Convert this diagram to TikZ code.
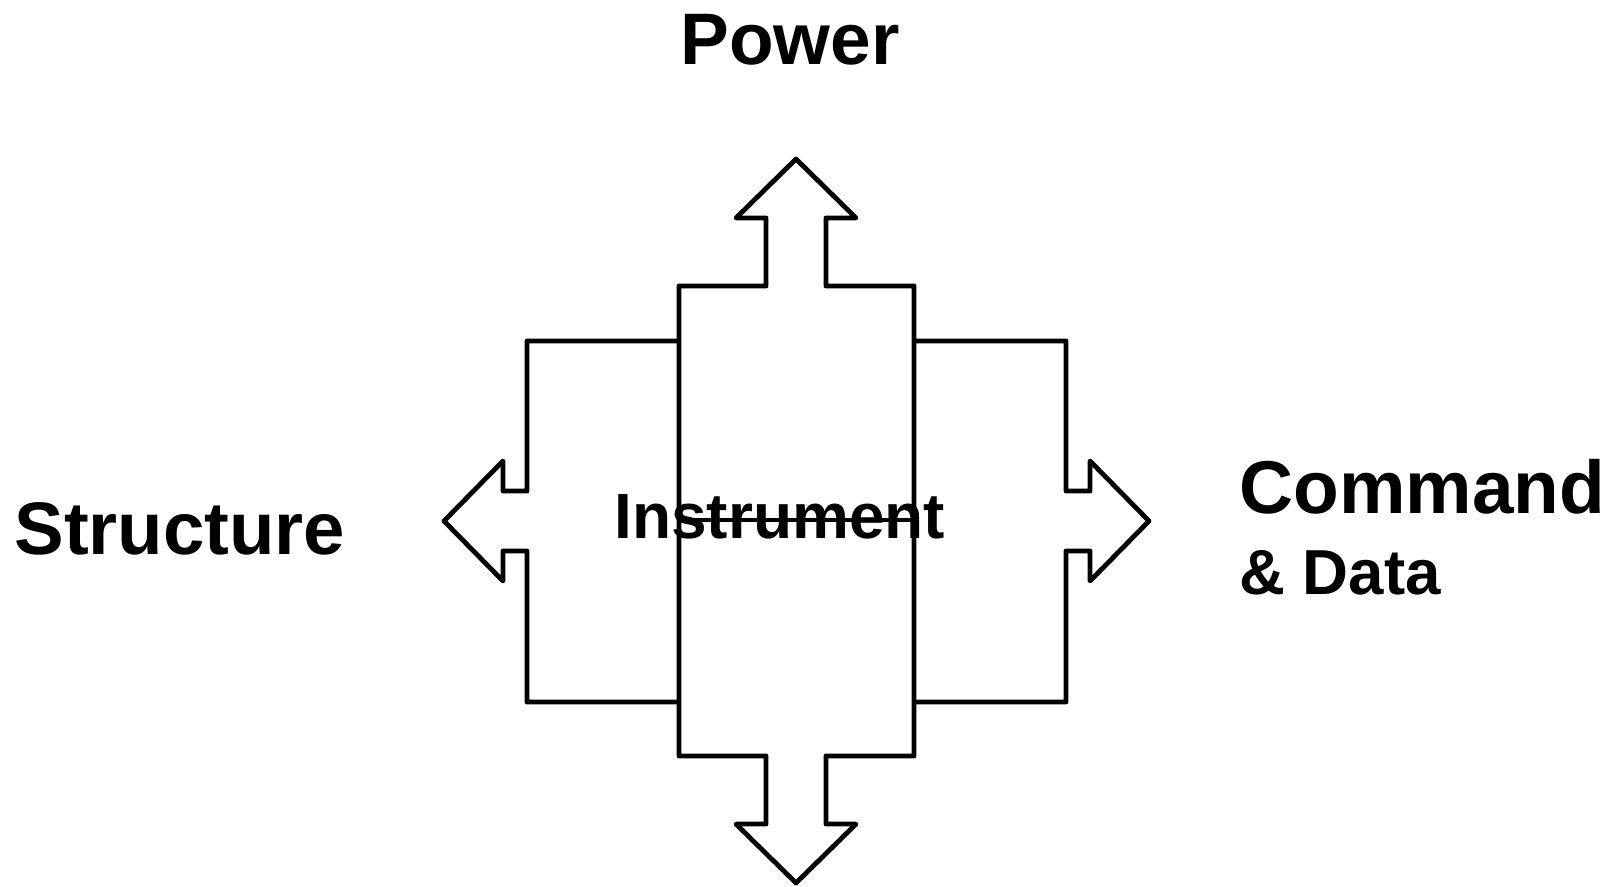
\documentclass[tikz,border=0pt]{standalone}
\usepackage{fontspec}
\setmainfont{Liberation Sans}
\usepackage{tikz}
\usetikzlibrary{positioning}

\begin{document}
\begin{tikzpicture}[x=0.5pt, y=-0.5pt,
  outline/.style={draw=black, line width=2.4pt, line join=round, line cap=round, fill=white},
  lbl/.style={inner sep=0pt, anchor=base west, font=\bfseries}]
  \useasboundingbox (0,0) rectangle (1615,887);

  % Fleche horizontale
  \draw[outline] (444,521) -- (503,461) -- (503,491) -- (527,491) -- (527,341)
    -- (1066,341) -- (1066,491) -- (1090,491) -- (1090,461) -- (1149,521)
    -- (1090,581) -- (1090,551) -- (1066,551) -- (1066,702) -- (527,702)
    -- (527,551) -- (503,551) -- (503,581) -- cycle;

  % Fleche verticale
  \draw[outline] (796,159) -- (856,218) -- (826,218) -- (826,286) -- (914,286)
    -- (914,756) -- (826,756) -- (826,824) -- (856,824) -- (796,883)
    -- (736,824) -- (766,824) -- (766,756) -- (679,756) -- (679,286)
    -- (766,286) -- (766,218) -- (736,218) -- cycle;

  % Trait central
  \coordinate (mid-l) at (679,520);
  \coordinate (mid-r) at (914,520);
  \draw[line width=2.4pt] (mid-l) -- (mid-r);

  % Textes
  \node[lbl] (instr) at (614,538) {\fontsize{32}{38}\selectfont Instrument};
  \node[lbl] (power) at (680,65) {\fontsize{36.5}{44}\selectfont Power};
  \node[lbl] (struct) at (14,554) {\fontsize{37.2}{44}\selectfont Structure};
  \node[lbl] (cmd) at (1239,513) {\fontsize{37.4}{44}\selectfont Command};
  \node[lbl] (data) at (1239,594) {\fontsize{31.8}{38}\selectfont \& Data};
\end{tikzpicture}
\end{document}
